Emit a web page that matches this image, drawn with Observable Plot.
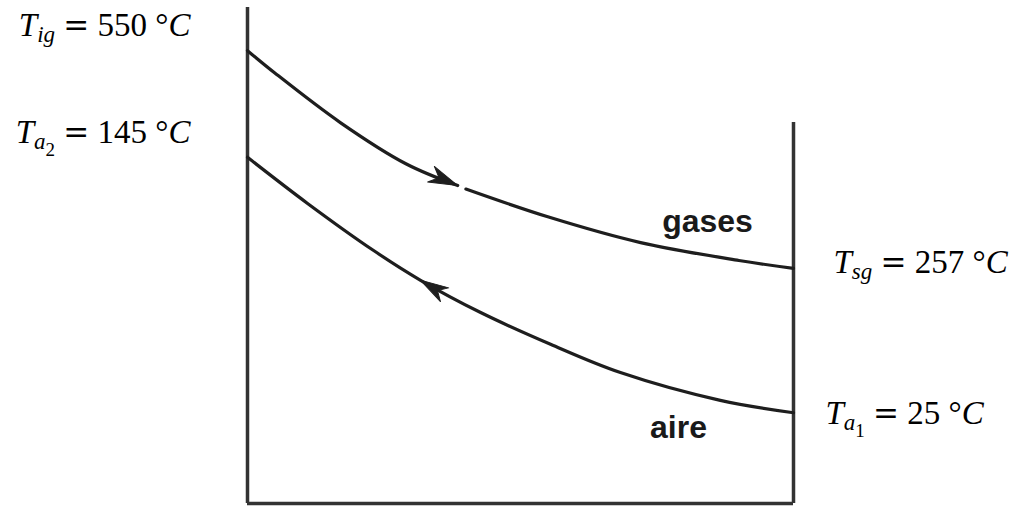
<!DOCTYPE html>
<html>
<head>
<meta charset="utf-8">
<script src="https://cdn.jsdelivr.net/npm/d3@7"></script>
<script src="https://cdn.jsdelivr.net/npm/@observablehq/plot@0.6"></script>
<style>
  html, body { margin: 0; padding: 0; background: #fff; }
  #chart svg { display: block; }
</style>
</head>
<body>
<div id="chart"></div>
<script>
// Perfil de temperaturas en un intercambiador a contracorriente (esquema, no a escala).
// Posición: 0 = extremo izquierdo, 100 = extremo derecho. Nivel: altura relativa del esquema.

// Corriente de gases (entra por la izquierda); tramo 0 llega a la flecha, tramo 1 sigue tras ella
const gasesPos   = [0, 5, 17, 29, 38.5, 40, 55, 72, 90, 100];
const gasesNivel = [91.3, 86.8, 76.8, 68.5, 64.1, 63.4, 57.8, 52.6, 49.0, 47.4];
const gasesTramo = [0, 0, 0, 0, 0, 1, 1, 1, 1, 1];
const gasesFlecha = 4; // índice de la punta de flecha

// Corriente de aire (entra por la derecha)
const airePos   = [0, 11.0, 23.1, 31.7, 42.7, 55.5, 68.3, 86.6, 100];
const aireNivel = [69.8, 60.5, 51.0, 45.0, 38.5, 32.1, 26.4, 20.8, 18.3];
const aireFlecha = 3;

// Paredes del esquema
const paredPos  = [0, 100];
const paredAlto = [100, 76.8];

// Nombres de las corrientes y temperaturas en los extremos
const corrientes = ["gases", "aire"];
const tempIzquierda = ["T_{ig} = 550 °C", "T_{a_{2}} = 145 °C"];
const tempDerecha   = ["T_{sg} = 257 °C", "T_{a_{1}} = 25 °C"];

const gases = gasesPos.map((x, i) => ({x, y: gasesNivel[i], tramo: gasesTramo[i]}));
const aire  = airePos.map((x, i) => ({x, y: aireNivel[i]}));
const paredes = paredPos.map((x, i) => ({x, alto: paredAlto[i]}));
const curvas = [gases, aire];

const inicio = (c) => ({...curvas[c][0], texto: tempIzquierda[c]});
const fin    = (c) => ({...curvas[c][curvas[c].length - 1], texto: tempDerecha[c]});

// Punta de flecha rellena con muesca trasera
const punta = {
  draw(ctx, l, r) {
    ctx.moveTo(0, -l);
    ctx.lineTo(r, 0);
    ctx.lineTo(0, -l * 0.3);
    ctx.lineTo(-r, 0);
    ctx.closePath();
  }
};

const tinta = "#1e1e1e";
const serif = "'Liberation Serif', 'Times New Roman', serif";
const sans = "'Liberation Sans', Arial, sans-serif";

const chart = Plot.plot({
  width: 1016,
  height: 506,
  marginLeft: 247,
  marginRight: 223,
  marginTop: 7,
  marginBottom: 3,
  x: {domain: [0, 100], axis: null},
  y: {domain: [0, 100], axis: null},
  marks: [
    // paredes y base
    Plot.ruleX(paredes, {x: "x", y1: 0, y2: "alto", stroke: "#333", strokeWidth: 3.5}),
    Plot.ruleY([0], {x1: 0, x2: 100, stroke: "#333", strokeWidth: 3.5}),

    // curvas de temperatura
    Plot.line(gases, {x: "x", y: "y", z: "tramo", curve: "catmull-rom", stroke: tinta, strokeWidth: 3.2}),
    Plot.line(aire, {x: "x", y: "y", curve: "catmull-rom", stroke: tinta, strokeWidth: 3.2}),

    // flechas de sentido de flujo
    Plot.vector([gases[gasesFlecha]], {x: "x", y: "y", rotate: 113, length: 29, r: 8.5, shape: punta, anchor: "end",
      fill: tinta, stroke: tinta, strokeWidth: 1}),
    Plot.vector([aire[aireFlecha]], {x: "x", y: "y", rotate: 301, length: 28, r: 8, shape: punta, anchor: "end",
      fill: tinta, stroke: tinta, strokeWidth: 1}),

    // temperaturas en los extremos
    Plot.text([inicio(0), inicio(1)], {x: "x", y: "y", text: "texto", textAnchor: "end", lineAnchor: "bottom",
      dx: -57, dy: -14.5, fontSize: 33, fontFamily: serif, fill: "#000", className: "etiqueta-T"}),
    Plot.text([fin(0)], {x: "x", y: "y", text: "texto", textAnchor: "start", lineAnchor: "bottom",
      dx: 40, dy: 5, fontSize: 33, fontFamily: serif, fill: "#000", className: "etiqueta-T"}),
    Plot.text([fin(1)], {x: "x", y: "y", text: "texto", textAnchor: "start", lineAnchor: "bottom",
      dx: 32, dy: 11, fontSize: 33, fontFamily: serif, fill: "#000", className: "etiqueta-T"}),

    // nombres de las corrientes
    Plot.text([{...fin(0), nombre: corrientes[0]}], {x: "x", y: "y", text: "nombre", lineAnchor: "bottom",
      dx: -86, dy: -36, fontSize: 32, fontWeight: "bold", fontFamily: sans, fill: "#1a1a1a"}),
    Plot.text([{...fin(1), nombre: corrientes[1]}], {x: "x", y: "y", text: "nombre", lineAnchor: "bottom",
      dx: -115, dy: 25, fontSize: 32, fontWeight: "bold", fontFamily: sans, fill: "#1a1a1a"})
  ]
});

// Notación matemática: T_{..} con subíndices anidados; letras en cursiva
function trozos(s, nivel = 0, out = []) {
  let i = 0;
  while (i < s.length) {
    if (s[i] === "_" && s[i + 1] === "{") {
      let prof = 1, j = i + 2;
      while (prof) { if (s[j] === "{") prof++; else if (s[j] === "}") prof--; j++; }
      trozos(s.slice(i + 2, j - 1), nivel + 1, out);
      i = j;
    } else {
      let j = i;
      while (j < s.length && !(s[j] === "_" && s[j + 1] === "{")) j++;
      out.push({t: s.slice(i, j), nivel});
      i = j;
    }
  }
  return out;
}

const tamNivel = [33, 23, 19];
const bajaNivel = [0, 6, 13];

d3.select(chart).selectAll("g.etiqueta-T text").each(function () {
  const s = this.textContent;
  const el = d3.select(this).text("").style("white-space", "pre");
  let actual = 0;
  for (const {t, nivel} of trozos(s)) {
    const partes = t.match(/[A-Za-z]+|=|[^A-Za-z=]+/g) || [];
    partes.forEach((p, k) => {
      const ts = el.append("tspan").text(p).attr("font-size", tamNivel[nivel]);
      if (k === 0) { ts.attr("dy", bajaNivel[nivel] - actual); actual = bajaNivel[nivel]; }
      if (/^[A-Za-z]+$/.test(p)) ts.attr("font-style", "italic");
      if (p === "=") ts.attr("font-family", "'DejaVu Serif', serif").attr("font-size", 31);
    });
  }
});

document.getElementById("chart").append(chart);
</script>
</body>
</html>
